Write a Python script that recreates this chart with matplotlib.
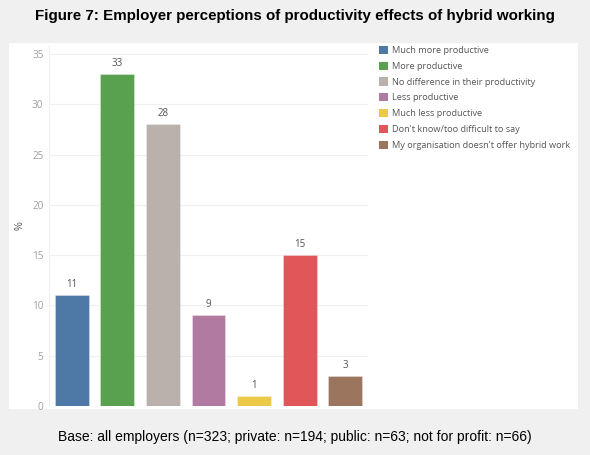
import matplotlib.pyplot as plt
from matplotlib.patches import Rectangle

# Data
categories = ['Much more productive', 'More productive', 'No difference in their productivity',
              'Less productive', 'Much less productive', "Don't know/too difficult to say",
              "My organisation doesn't offer hybrid work"]
values = [11, 33, 28, 9, 1, 15, 3]
colors = ['#4e79a7', '#59a14f', '#bab0ac', '#b07aa1', '#edc948', '#e15759', '#9c755f']
yticks = [0, 5, 10, 15, 20, 25, 30, 35]

plt.rcParams['font.family'] = ['Liberation Sans', 'DejaVu Sans']

fig = plt.figure(figsize=(5.9, 4.55), dpi=100, facecolor='#f0f0f0')

# white panel behind chart
fig.patches.append(Rectangle((9 / 590, 0.101), (578 - 9) / 590, 0.905 - 0.101,
                             transform=fig.transFigure, facecolor='white',
                             edgecolor='none', zorder=-1))

ax = fig.add_axes([49 / 590, 0.1077, (368 - 49) / 590, 0.899 - 0.1077])
ax.set_zorder(1)
ax.set_facecolor('white')

x = range(len(values))
bars = ax.bar(x, values, width=0.74, color=colors, linewidth=0.6, zorder=3)
for b in bars:
    b.set_edgecolor((1, 1, 1, 0.35))

for xi, v in zip(x, values):
    ax.text(xi, v + 0.5, str(v), ha='center', va='bottom', fontsize=7, color='#555555',
            family=['Open Sans', 'DejaVu Sans'])

ax.set_xlim(-0.5, 6.5)
ax.set_ylim(0, 35.8)
ax.set_xticks([])
ax.set_yticks(yticks)
ax.set_yticklabels([str(t) for t in yticks], fontsize=7.2, color='#a0a0a0',
                   family=['Open Sans', 'DejaVu Sans'])
ax.tick_params(axis='y', length=0, pad=4)
ax.grid(axis='y', color='#f0f0f0', linewidth=0.9, zorder=0)
for s in ['top', 'right', 'bottom']:
    ax.spines[s].set_visible(False)
ax.spines['left'].set_color('#f0f0f0')
ax.set_ylabel('%', fontsize=7, color='#555555')
ax.yaxis.set_label_coords(-0.075, 0.5)

# legend
handles = [Rectangle((0, 0), 1, 1, facecolor=c) for c in colors]
fig.legend(handles, categories, loc='upper left', bbox_to_anchor=(375 / 590, 1 - 42 / 455),
           frameon=False, handlelength=1.0, handleheight=1.0,
           handletextpad=0.45, labelspacing=0.72, borderaxespad=0,
           labelcolor='#555555', prop={'family': ['Open Sans', 'DejaVu Sans'], 'size': 6.6})

fig.text(0.5, 1 - 16 / 455, 'Figure 7: Employer perceptions of productivity effects of hybrid working',
         ha='center', va='center', fontsize=10.9, fontweight='bold', color='black')
fig.text(0.5, 1 - 437 / 455, 'Base: all employers (n=323; private: n=194; public: n=63; not for profit: n=66)',
         ha='center', va='center', fontsize=10, color='black')

fig.savefig('out.png', dpi=100, facecolor=fig.get_facecolor())
